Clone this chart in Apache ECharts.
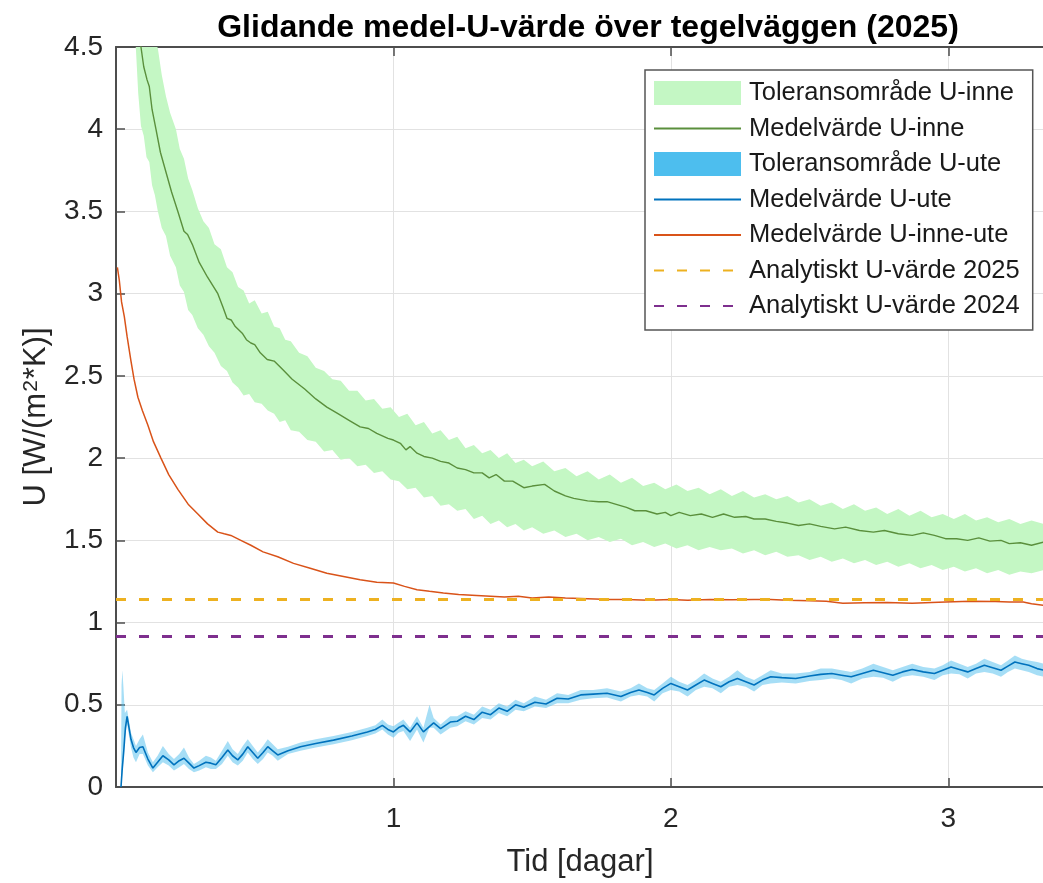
<!DOCTYPE html>
<html>
<head>
<meta charset="utf-8">
<title>Glidande medel-U-värde över tegelväggen (2025)</title>
<script src="https://cdn.jsdelivr.net/npm/echarts@6/dist/echarts.min.js"></script>
<style>
  html, body { margin: 0; padding: 0; background: #ffffff; }
  #chart { width: 1043px; height: 883px; }
</style>
</head>
<body>
<div id="chart"></div>
<script>
// Time axis in days, U-values in W/(m2*K)
const xTicks = [1, 2, 3];

// Tolerance band for U-inne: [t, lower, upper]
const inneTolerans = [
  [0.055, 4.78, 5.30], [0.065, 4.62, 5.20], [0.072, 4.48, 5.12], [0.080, 4.22, 5.06],
  [0.090, 4.02, 4.98], [0.100, 3.96, 4.90], [0.110, 3.83, 4.82], [0.120, 3.80, 4.72],
  [0.130, 3.66, 4.64], [0.140, 3.60, 4.55], [0.151, 3.50, 4.49], [0.165, 3.40, 4.33],
  [0.180, 3.35, 4.20], [0.195, 3.23, 4.10], [0.216, 3.16, 4.00], [0.230, 3.05, 3.88],
  [0.245, 3.01, 3.82], [0.260, 2.90, 3.70], [0.275, 2.87, 3.63], [0.295, 2.79, 3.52],
  [0.315, 2.75, 3.44], [0.335, 2.68, 3.40], [0.355, 2.64, 3.30], [0.378, 2.56, 3.27],
  [0.400, 2.53, 3.16], [0.420, 2.46, 3.13], [0.440, 2.43, 3.04], [0.460, 2.38, 3.02],
  [0.480, 2.39, 2.94], [0.500, 2.34, 2.96], [0.525, 2.33, 2.88], [0.547, 2.29, 2.89],
  [0.570, 2.27, 2.80], [0.590, 2.22, 2.79], [0.610, 2.23, 2.72], [0.630, 2.17, 2.71],
  [0.660, 2.16, 2.64], [0.690, 2.11, 2.62], [0.720, 2.10, 2.55], [0.750, 2.04, 2.53],
  [0.780, 2.05, 2.48], [0.810, 1.99, 2.47], [0.840, 2.00, 2.41], [0.870, 1.95, 2.41],
  [0.900, 1.96, 2.35], [0.930, 1.91, 2.36], [0.960, 1.92, 2.30], [0.990, 1.87, 2.31],
  [1.020, 1.86, 2.25], [1.050, 1.81, 2.27], [1.080, 1.82, 2.20], [1.110, 1.76, 2.22],
  [1.140, 1.77, 2.15], [1.170, 1.71, 2.17], [1.200, 1.72, 2.11], [1.230, 1.68, 2.13],
  [1.260, 1.69, 2.06], [1.290, 1.63, 2.08], [1.320, 1.65, 2.03], [1.350, 1.60, 2.05],
  [1.380, 1.62, 2.00], [1.410, 1.58, 2.03], [1.440, 1.60, 1.97], [1.470, 1.56, 1.99],
  [1.500, 1.58, 1.95], [1.540, 1.54, 1.98], [1.580, 1.56, 1.92], [1.620, 1.52, 1.94],
  [1.660, 1.54, 1.89], [1.700, 1.50, 1.92], [1.740, 1.52, 1.87], [1.780, 1.49, 1.90],
  [1.820, 1.51, 1.85], [1.860, 1.47, 1.88], [1.900, 1.49, 1.83], [1.940, 1.46, 1.85],
  [1.980, 1.48, 1.81], [2.020, 1.45, 1.84], [2.060, 1.47, 1.80], [2.100, 1.44, 1.82],
  [2.140, 1.46, 1.78], [2.180, 1.44, 1.81], [2.220, 1.45, 1.77], [2.260, 1.42, 1.80],
  [2.300, 1.44, 1.76], [2.340, 1.41, 1.78], [2.380, 1.43, 1.75], [2.420, 1.40, 1.77],
  [2.460, 1.41, 1.73], [2.500, 1.38, 1.75], [2.540, 1.40, 1.71], [2.580, 1.37, 1.73],
  [2.620, 1.39, 1.69], [2.660, 1.36, 1.72], [2.700, 1.38, 1.68], [2.740, 1.35, 1.70],
  [2.780, 1.37, 1.66], [2.820, 1.34, 1.69], [2.860, 1.36, 1.65], [2.900, 1.33, 1.68],
  [2.940, 1.35, 1.64], [2.980, 1.32, 1.66], [3.020, 1.34, 1.63], [3.060, 1.31, 1.66],
  [3.100, 1.33, 1.62], [3.140, 1.30, 1.64], [3.180, 1.32, 1.61], [3.220, 1.29, 1.63],
  [3.260, 1.31, 1.60], [3.300, 1.30, 1.62], [3.345, 1.32, 1.60]
];

// Running mean of U-inne: [t, U]
const inneMedel = [
  [0.060, 4.78], [0.075, 4.62], [0.090, 4.50], [0.100, 4.38], [0.112, 4.30], [0.120, 4.26],
  [0.130, 4.12], [0.144, 4.00], [0.160, 3.86], [0.180, 3.74], [0.200, 3.62], [0.223, 3.50],
  [0.245, 3.38], [0.258, 3.36], [0.275, 3.30], [0.300, 3.19], [0.330, 3.10], [0.367, 3.00],
  [0.385, 2.92], [0.400, 2.85], [0.415, 2.84], [0.430, 2.80], [0.455, 2.76], [0.470, 2.72],
  [0.486, 2.70], [0.500, 2.69], [0.520, 2.64], [0.545, 2.60], [0.570, 2.59], [0.600, 2.54],
  [0.635, 2.48], [0.680, 2.42], [0.720, 2.36], [0.760, 2.31], [0.800, 2.27], [0.840, 2.23],
  [0.880, 2.19], [0.910, 2.18], [0.940, 2.15], [0.980, 2.12], [1.000, 2.11], [1.025, 2.09],
  [1.045, 2.05], [1.060, 2.07], [1.085, 2.03], [1.110, 2.01], [1.140, 2.00], [1.170, 1.98],
  [1.200, 1.97], [1.230, 1.94], [1.260, 1.93], [1.290, 1.91], [1.320, 1.91], [1.345, 1.88],
  [1.370, 1.90], [1.400, 1.86], [1.430, 1.86], [1.470, 1.82], [1.500, 1.83], [1.545, 1.84],
  [1.580, 1.80], [1.620, 1.77], [1.650, 1.755], [1.700, 1.74], [1.740, 1.735], [1.770, 1.735],
  [1.800, 1.72], [1.840, 1.70], [1.870, 1.68], [1.910, 1.68], [1.950, 1.66], [1.980, 1.67],
  [2.000, 1.65], [2.030, 1.67], [2.070, 1.65], [2.110, 1.66], [2.150, 1.64], [2.190, 1.66],
  [2.230, 1.64], [2.270, 1.645], [2.300, 1.63], [2.340, 1.63], [2.380, 1.615], [2.420, 1.605],
  [2.460, 1.59], [2.500, 1.60], [2.540, 1.585], [2.590, 1.57], [2.630, 1.58], [2.680, 1.56],
  [2.730, 1.55], [2.770, 1.56], [2.820, 1.54], [2.870, 1.53], [2.910, 1.545], [2.950, 1.53],
  [2.990, 1.51], [3.030, 1.51], [3.070, 1.50], [3.110, 1.515], [3.150, 1.495], [3.190, 1.50],
  [3.220, 1.48], [3.260, 1.485], [3.300, 1.47], [3.345, 1.49]
];

// Tolerance band for U-ute: [t, lower, upper]
const uteTolerans = [
  [0.018, 0.00, 0.05], [0.020, 0.02, 0.62], [0.023, 0.08, 0.71], [0.027, 0.18, 0.60],
  [0.032, 0.30, 0.45], [0.040, 0.38, 0.47], [0.047, 0.31, 0.40], [0.054, 0.24, 0.33],
  [0.063, 0.18, 0.29], [0.072, 0.15, 0.25], [0.085, 0.20, 0.29], [0.097, 0.20, 0.32],
  [0.115, 0.13, 0.21], [0.133, 0.09, 0.15], [0.150, 0.12, 0.19], [0.169, 0.15, 0.25],
  [0.190, 0.13, 0.20], [0.209, 0.10, 0.17], [0.228, 0.12, 0.20], [0.245, 0.14, 0.24],
  [0.263, 0.11, 0.18], [0.281, 0.09, 0.14], [0.300, 0.10, 0.16], [0.324, 0.12, 0.19],
  [0.342, 0.11, 0.18], [0.360, 0.11, 0.16], [0.382, 0.14, 0.22], [0.403, 0.19, 0.28],
  [0.420, 0.15, 0.23], [0.439, 0.13, 0.20], [0.457, 0.16, 0.25], [0.475, 0.21, 0.29],
  [0.493, 0.17, 0.25], [0.511, 0.14, 0.21], [0.530, 0.17, 0.25], [0.547, 0.21, 0.29],
  [0.565, 0.19, 0.26], [0.583, 0.16, 0.23], [0.620, 0.20, 0.245], [0.665, 0.22, 0.27],
  [0.720, 0.24, 0.29], [0.784, 0.26, 0.31], [0.850, 0.285, 0.335], [0.906, 0.31, 0.36],
  [0.935, 0.325, 0.375], [0.960, 0.35, 0.41], [0.980, 0.32, 0.38], [1.000, 0.30, 0.37],
  [1.018, 0.33, 0.39], [1.036, 0.34, 0.41], [1.060, 0.28, 0.36], [1.085, 0.35, 0.43],
  [1.108, 0.27, 0.36], [1.130, 0.36, 0.50], [1.145, 0.36, 0.42], [1.170, 0.32, 0.38],
  [1.205, 0.36, 0.43], [1.230, 0.37, 0.43], [1.260, 0.40, 0.46], [1.290, 0.38, 0.44],
  [1.320, 0.42, 0.49], [1.350, 0.41, 0.47], [1.380, 0.45, 0.51], [1.410, 0.43, 0.49],
  [1.440, 0.47, 0.53], [1.470, 0.46, 0.51], [1.510, 0.49, 0.55], [1.550, 0.48, 0.53],
  [1.590, 0.51, 0.57], [1.630, 0.51, 0.56], [1.675, 0.53, 0.59], [1.720, 0.54, 0.59],
  [1.770, 0.545, 0.60], [1.820, 0.52, 0.58], [1.855, 0.55, 0.60], [1.885, 0.56, 0.63],
  [1.915, 0.55, 0.60], [1.940, 0.52, 0.59], [1.970, 0.57, 0.63], [2.000, 0.59, 0.67],
  [2.030, 0.58, 0.64], [2.060, 0.55, 0.62], [2.090, 0.59, 0.65], [2.120, 0.61, 0.69],
  [2.150, 0.60, 0.66], [2.180, 0.57, 0.64], [2.210, 0.61, 0.67], [2.240, 0.62, 0.71],
  [2.270, 0.61, 0.67], [2.300, 0.58, 0.65], [2.330, 0.62, 0.68], [2.360, 0.63, 0.71],
  [2.400, 0.635, 0.69], [2.450, 0.63, 0.69], [2.500, 0.645, 0.70], [2.540, 0.65, 0.72],
  [2.580, 0.66, 0.72], [2.615, 0.65, 0.71], [2.650, 0.63, 0.70], [2.690, 0.66, 0.72],
  [2.730, 0.67, 0.75], [2.765, 0.665, 0.73], [2.800, 0.64, 0.71], [2.835, 0.67, 0.73],
  [2.870, 0.68, 0.75], [2.910, 0.67, 0.73], [2.950, 0.65, 0.72], [2.980, 0.68, 0.74],
  [3.010, 0.69, 0.77], [3.040, 0.685, 0.75], [3.070, 0.66, 0.73], [3.100, 0.69, 0.75],
  [3.130, 0.70, 0.78], [3.160, 0.69, 0.76], [3.190, 0.67, 0.74], [3.215, 0.70, 0.77],
  [3.240, 0.72, 0.80], [3.265, 0.71, 0.78], [3.290, 0.70, 0.77], [3.320, 0.68, 0.76],
  [3.345, 0.67, 0.75]
];

// Running mean of U-ute: [t, U]
const uteMedel = [
  [0.018, 0.00], [0.022, 0.10], [0.028, 0.22], [0.034, 0.36], [0.040, 0.43], [0.047, 0.36],
  [0.054, 0.29], [0.063, 0.24], [0.072, 0.21], [0.085, 0.24], [0.097, 0.245], [0.115, 0.17],
  [0.133, 0.115], [0.150, 0.15], [0.169, 0.19], [0.190, 0.165], [0.209, 0.135], [0.228, 0.16],
  [0.245, 0.175], [0.263, 0.145], [0.281, 0.115], [0.300, 0.13], [0.324, 0.15], [0.342, 0.145],
  [0.360, 0.135], [0.382, 0.18], [0.403, 0.225], [0.420, 0.19], [0.439, 0.165], [0.457, 0.20],
  [0.475, 0.245], [0.493, 0.21], [0.511, 0.175], [0.530, 0.21], [0.547, 0.245], [0.565, 0.22],
  [0.583, 0.195], [0.620, 0.22], [0.665, 0.245], [0.720, 0.265], [0.784, 0.285], [0.850, 0.31],
  [0.906, 0.335], [0.935, 0.35], [0.960, 0.375], [0.980, 0.35], [1.000, 0.335], [1.018, 0.36],
  [1.036, 0.375], [1.060, 0.335], [1.085, 0.39], [1.108, 0.335], [1.145, 0.39], [1.170, 0.355],
  [1.205, 0.395], [1.230, 0.40], [1.260, 0.43], [1.290, 0.41], [1.320, 0.455], [1.350, 0.44],
  [1.380, 0.48], [1.410, 0.46], [1.440, 0.50], [1.470, 0.485], [1.510, 0.515], [1.550, 0.505],
  [1.590, 0.54], [1.630, 0.535], [1.675, 0.56], [1.720, 0.565], [1.770, 0.57], [1.820, 0.55],
  [1.855, 0.575], [1.885, 0.59], [1.915, 0.575], [1.940, 0.56], [1.970, 0.60], [2.000, 0.63],
  [2.030, 0.61], [2.060, 0.59], [2.090, 0.62], [2.120, 0.65], [2.150, 0.63], [2.180, 0.61],
  [2.210, 0.64], [2.240, 0.66], [2.270, 0.64], [2.300, 0.62], [2.330, 0.65], [2.360, 0.67],
  [2.400, 0.665], [2.450, 0.66], [2.500, 0.675], [2.540, 0.685], [2.580, 0.69], [2.615, 0.68],
  [2.650, 0.67], [2.690, 0.69], [2.730, 0.71], [2.765, 0.695], [2.800, 0.68], [2.835, 0.70],
  [2.870, 0.715], [2.910, 0.70], [2.950, 0.69], [2.980, 0.71], [3.010, 0.73], [3.040, 0.715],
  [3.070, 0.70], [3.100, 0.72], [3.130, 0.74], [3.160, 0.725], [3.190, 0.71], [3.215, 0.735],
  [3.240, 0.76], [3.265, 0.75], [3.290, 0.74], [3.320, 0.72], [3.345, 0.71]
];

// Running mean of U-inne-ute: [t, U]
const inneUteMedel = [
  [0.005, 3.16], [0.012, 3.08], [0.020, 2.95], [0.030, 2.86], [0.040, 2.74], [0.054, 2.59],
  [0.065, 2.48], [0.079, 2.37], [0.095, 2.29], [0.115, 2.20], [0.135, 2.10], [0.162, 2.00],
  [0.190, 1.90], [0.223, 1.81], [0.260, 1.72], [0.295, 1.66], [0.330, 1.60], [0.367, 1.55],
  [0.390, 1.54], [0.414, 1.53], [0.450, 1.50], [0.486, 1.47], [0.530, 1.43], [0.583, 1.40],
  [0.640, 1.36], [0.700, 1.33], [0.760, 1.30], [0.820, 1.28], [0.880, 1.26], [0.940, 1.245],
  [1.000, 1.24], [1.040, 1.22], [1.085, 1.20], [1.130, 1.19], [1.180, 1.18], [1.235, 1.17],
  [1.300, 1.165], [1.350, 1.16], [1.400, 1.155], [1.450, 1.16], [1.500, 1.15], [1.560, 1.155],
  [1.620, 1.15], [1.700, 1.145], [1.780, 1.14], [1.840, 1.14], [1.920, 1.135], [2.000, 1.14],
  [2.060, 1.135], [2.140, 1.14], [2.220, 1.138], [2.300, 1.14], [2.360, 1.14], [2.420, 1.135],
  [2.500, 1.133], [2.560, 1.13], [2.620, 1.118], [2.700, 1.12], [2.780, 1.122], [2.870, 1.118],
  [2.940, 1.122], [2.990, 1.125], [3.080, 1.13], [3.170, 1.128], [3.220, 1.125], [3.270, 1.125],
  [3.300, 1.115], [3.345, 1.105]
];

// Analytical reference values
const analytisk2025 = 1.14;
const analytisk2024 = 0.915;

const tStart = 0;
const tEnd = 3.345;

const FONT = "'Liberation Sans', Arial, Helvetica, sans-serif";
const INK = '#262626';
const AXIS = '#4d4d4d';
const GRID = '#e2e2e2';

const COLORS = {
  inneBand: '#c4f7c4',
  inneLine: '#5a8f3c',
  uteBand: '#4dbeee',
  uteLine: '#0072bd',
  inneUte: '#d95319',
  a2025: '#edb120',
  a2024: '#7e2f8e'
};

// Filled polygon between lower and upper edge of a band
function bandRenderer(rows, fill, opacity) {
  return function (params, api) {
    if (params.dataIndex !== 0) return null;
    const upper = rows.map(function (r) { return api.coord([r[0], r[2]]); });
    const lower = rows.slice().reverse().map(function (r) { return api.coord([r[0], r[1]]); });
    return {
      type: 'polygon',
      silent: true,
      shape: { points: upper.concat(lower) },
      style: { fill: fill, opacity: opacity, stroke: null }
    };
  };
}

function horizontal(value) {
  return [[tStart, value], [tEnd, value]];
}

const chart = echarts.init(document.getElementById('chart'), null, { renderer: 'canvas' });

const names = {
  inneBand: 'Toleransområde U-inne',
  inneLine: 'Medelvärde U-inne',
  uteBand: 'Toleransområde U-ute',
  uteLine: 'Medelvärde U-ute',
  inneUte: 'Medelvärde U-inne-ute',
  a2025: 'Analytiskt U-värde 2025',
  a2024: 'Analytiskt U-värde 2024'
};

const option = {
  animation: false,
  backgroundColor: '#ffffff',
  title: {
    text: 'Glidande medel-U-värde över tegelväggen (2025)',
    left: 583,
    top: 7,
    textAlign: 'center',
    textStyle: { fontFamily: FONT, fontSize: 32, fontWeight: 'bold', color: '#000000' }
  },
  grid: {
    left: 116,
    right: -1,
    top: 47,
    bottom: 96,
    containLabel: false,
    outerBoundsMode: 'none'
  },
  legend: {
    orient: 'vertical',
    left: 645,
    top: 70,
    padding: [10, 13, 11, 8],
    itemWidth: 87,
    itemHeight: 24,
    itemGap: 9.5,
    backgroundColor: '#ffffff',
    borderColor: '#555555',
    borderWidth: 1.5,
    borderRadius: 0,
    selectedMode: false,
    // line entries show only their stroke, no marker
    itemStyle: { opacity: 0 },
    textStyle: { fontFamily: FONT, fontSize: 25.5, color: '#1a1a1a', lineHeight: 24, padding: [0, 0, 0, 3] },
    data: [
      { name: 'Toleransområde U-inne', icon: 'rect', itemStyle: { color: COLORS.inneBand, opacity: 1 } },
      { name: 'Medelvärde U-inne' },
      { name: 'Toleransområde U-ute', icon: 'rect', itemStyle: { color: COLORS.uteBand, opacity: 1 } },
      { name: 'Medelvärde U-ute' },
      { name: 'Medelvärde U-inne-ute' },
      { name: 'Analytiskt U-värde 2025' },
      { name: 'Analytiskt U-värde 2024' }
    ]
  },
  xAxis: [
    {
      type: 'value',
      min: tStart,
      max: tEnd,
      interval: 1,
      name: 'Tid [dagar]',
      nameLocation: 'middle',
      nameGap: 60,
      nameTextStyle: { fontFamily: FONT, fontSize: 31, color: INK },
      axisLine: { show: true, onZero: false, lineStyle: { color: AXIS, width: 2 } },
      axisTick: { show: true, inside: true, length: 9, lineStyle: { color: AXIS, width: 1.5 } },
      axisLabel: {
        fontFamily: FONT, fontSize: 28, color: INK, margin: 18,
        formatter: function (v) { return xTicks.indexOf(v) >= 0 ? String(v) : ''; }
      },
      splitLine: { show: true, lineStyle: { color: GRID, width: 1 } }
    },
    {
      type: 'value',
      position: 'top',
      min: tStart,
      max: tEnd,
      interval: 1,
      axisLine: { show: true, onZero: false, lineStyle: { color: AXIS, width: 2 } },
      axisTick: { show: true, inside: true, length: 9, lineStyle: { color: AXIS, width: 1.5 } },
      axisLabel: { show: false },
      splitLine: { show: false }
    }
  ],
  yAxis: {
    type: 'value',
    min: 0,
    max: 4.5,
    interval: 0.5,
    name: 'U [W/(m{sup|2}*K)]',
    nameLocation: 'middle',
    nameRotate: 90,
    nameGap: 64,
    nameTextStyle: {
      fontFamily: FONT, fontSize: 31, color: INK,
      rich: { sup: { fontFamily: FONT, fontSize: 21, color: INK, verticalAlign: 'top', padding: [0, 1, 0, 1] } }
    },
    axisLine: { show: true, onZero: false, lineStyle: { color: AXIS, width: 2 } },
    axisTick: { show: true, inside: true, length: 9, lineStyle: { color: AXIS, width: 1.5 } },
    axisLabel: { fontFamily: FONT, fontSize: 28, color: INK, margin: 13 },
    splitLine: { show: true, lineStyle: { color: GRID, width: 1 } }
  },
  series: [
    {
      name: names.inneBand,
      type: 'custom',
      clip: true,
      itemStyle: { color: COLORS.inneBand },
      encode: { x: 0, y: [1, 2] },
      data: inneTolerans,
      renderItem: bandRenderer(inneTolerans, COLORS.inneBand, 1)
    },
    {
      name: names.inneLine,
      type: 'line',
      data: inneMedel,
      symbol: 'none',
      clip: true,
      lineStyle: { color: COLORS.inneLine, width: 1.4 },
      itemStyle: { color: COLORS.inneLine }
    },
    {
      name: names.uteBand,
      type: 'custom',
      clip: true,
      itemStyle: { color: COLORS.uteBand },
      encode: { x: 0, y: [1, 2] },
      data: uteTolerans,
      renderItem: bandRenderer(uteTolerans, COLORS.uteBand, 0.5)
    },
    {
      name: names.uteLine,
      type: 'line',
      data: uteMedel,
      symbol: 'none',
      clip: true,
      lineStyle: { color: COLORS.uteLine, width: 1.6 },
      itemStyle: { color: COLORS.uteLine }
    },
    {
      name: names.inneUte,
      type: 'line',
      data: inneUteMedel,
      symbol: 'none',
      clip: true,
      lineStyle: { color: COLORS.inneUte, width: 1.5 },
      itemStyle: { color: COLORS.inneUte }
    },
    {
      name: names.a2025,
      type: 'line',
      data: horizontal(analytisk2025),
      symbol: 'none',
      clip: true,
      lineStyle: { color: COLORS.a2025, width: 3, type: [10, 13], cap: 'butt' },
      itemStyle: { color: COLORS.a2025 }
    },
    {
      name: names.a2024,
      type: 'line',
      data: horizontal(analytisk2024),
      symbol: 'none',
      clip: true,
      lineStyle: { color: COLORS.a2024, width: 3, type: [10, 13], cap: 'butt' },
      itemStyle: { color: COLORS.a2024 }
    }
  ]
};

chart.setOption(option);
</script>
</body>
</html>
